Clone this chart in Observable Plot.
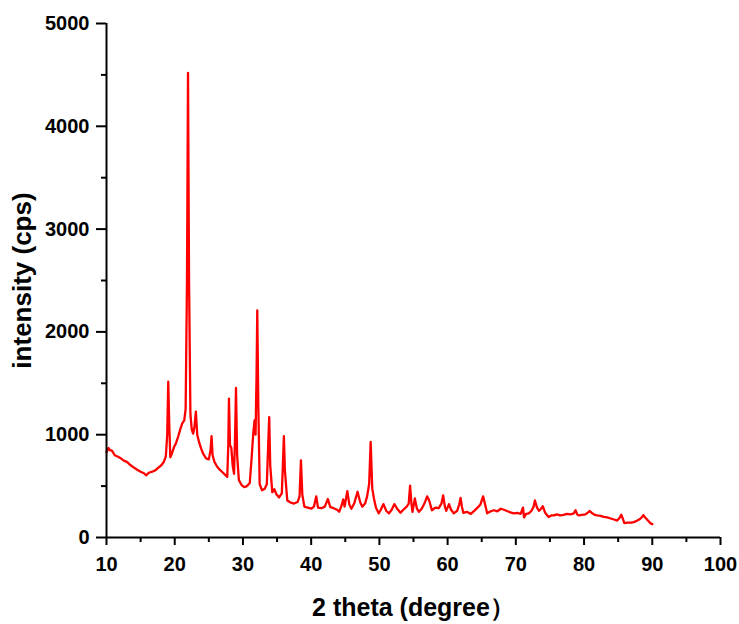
<!DOCTYPE html>
<html>
<head>
<meta charset="utf-8">
<script src="https://cdn.jsdelivr.net/npm/d3@7"></script>
<script src="https://cdn.jsdelivr.net/npm/@observablehq/plot@0.6"></script>
<style>
  html, body { margin: 0; padding: 0; background: white; }
</style>
</head>
<body>
<div id="chart"></div>
<script>
const theta = [
  10.0,10.3,10.5,10.8,11.2,11.7,12.2,12.6,13.0,13.5,14.0,14.5,15.0,15.5,15.8,16.2,16.7,17.2,17.6,18.0,
  18.4,18.7,18.9,19.05,19.2,19.35,19.6,19.9,20.2,20.5,20.8,21.1,21.4,21.6,21.8,21.95,22.1,22.3,22.5,22.7,
  22.9,23.1,23.3,23.6,23.9,24.2,24.6,25.0,25.25,25.4,25.55,25.8,26.2,26.6,27.0,27.4,27.7,27.85,27.95,28.1,
  28.3,28.5,28.7,28.85,28.98,29.15,29.4,29.8,30.2,30.6,31.0,31.3,31.5,31.7,31.85,32.0,32.1,32.25,32.45,32.8,
  33.2,33.5,33.7,33.85,34.0,34.3,34.6,34.9,35.3,35.7,35.85,36.0,36.15,36.5,37.0,37.5,38.0,38.3,38.5,38.7,
  39.0,39.5,40.0,40.4,40.75,41.0,41.5,42.0,42.45,42.8,43.3,43.8,44.1,44.4,44.7,44.9,45.3,45.6,45.9,46.3,
  46.8,47.2,47.5,47.9,48.2,48.5,48.72,48.95,49.2,49.5,49.9,50.2,50.6,51.0,51.4,51.8,52.2,52.6,53.1,53.5,
  54.0,54.3,54.5,54.7,54.85,55.2,55.5,55.8,56.2,56.6,57.0,57.3,57.7,58.2,58.7,59.1,59.35,59.6,59.8,60.2,
  60.5,60.9,61.4,61.7,61.9,62.1,62.3,62.8,63.4,63.9,64.3,64.8,65.2,65.5,65.8,66.3,66.8,67.3,67.8,68.25,
  68.8,69.2,69.7,70.2,70.7,71.05,71.2,71.5,71.9,72.3,72.6,72.8,73.1,73.4,73.7,73.95,74.3,74.8,75.2,75.6,
  76.0,76.5,77.0,77.5,78.0,78.5,78.75,79.0,79.2,79.7,80.2,80.6,80.85,81.2,81.6,81.9,82.4,82.9,83.4,83.9,
  84.4,84.85,85.2,85.45,85.7,85.9,86.4,86.9,87.3,87.8,88.2,88.5,88.7,88.95,89.3,89.7,90.0
];
const intensity = [
  830,870,850,845,800,785,765,745,735,705,680,660,640,625,605,630,640,655,680,700,
  735,790,1000,1515,1100,780,820,880,920,980,1050,1110,1140,1250,2500,4520,2500,1200,1050,1010,
  1080,1225,1000,920,860,810,770,760,850,985,800,740,690,660,635,610,590,900,1350,900,
  870,700,620,1000,1455,800,560,510,490,500,530,800,1000,1140,1000,1600,2210,1300,520,460,
  475,520,900,1170,700,440,470,420,390,430,700,985,650,360,340,330,345,400,750,420,
  300,290,280,300,400,290,285,300,375,295,285,270,250,300,370,300,450,320,280,330,
  445,340,300,330,400,520,930,480,380,290,235,270,325,260,235,270,325,280,240,270,
  300,330,505,330,250,380,280,250,280,330,400,360,265,290,285,330,410,300,260,325,
  270,235,260,320,385,300,240,250,230,260,285,320,400,320,235,255,265,255,280,270,
  255,245,235,240,230,290,195,230,235,260,300,360,290,260,280,305,240,200,215,215,
  225,215,220,230,225,235,265,225,215,220,225,245,258,235,220,215,210,200,195,185,
  175,165,190,222,180,140,145,145,150,165,180,200,218,195,170,140,130
];
const xTicks = [10,20,30,40,50,60,70,80,90,100];
const xMinor = [15,25,35,45,55,65,75,85,95];
const yTicks = [0,1000,2000,3000,4000,5000];
const yMinor = [500,1500,2500,3500,4500];
const xLabel = "2 theta (degree\uFF09";
const yLabel = "intensity (cps)";

const data = theta.map((t, i) => ({t, v: intensity[i]}));

const chart = Plot.plot({
  width: 739,
  height: 624,
  marginLeft: 106,
  marginRight: 19,
  marginTop: 23,
  marginBottom: 87,
  x: {domain: [10, 100]},
  y: {domain: [0, 5000]},
  style: {
    fontFamily: "'Liberation Sans', Arial, sans-serif",
    fontWeight: "bold",
    fontSize: "20px",
    color: "black",
    background: "white"
  },
  marks: [
    Plot.line(data, {x: "t", y: "v", stroke: "#ff0000", strokeWidth: 2.3}),
    Plot.axisX(xTicks, {tickSize: 8, tickPadding: 11, strokeWidth: 2, label: null, tickFormat: d => String(d)}),
    Plot.axisX(xMinor, {tickSize: 5, strokeWidth: 2, label: null, tickFormat: () => ""}),
    Plot.axisY(yTicks, {tickSize: 10, tickPadding: 7, strokeWidth: 2, label: null, tickFormat: d => String(d)}),
    Plot.axisY(yMinor, {tickSize: 5, strokeWidth: 2, label: null, tickFormat: () => ""}),
    Plot.ruleY([0], {strokeWidth: 2}),
    Plot.ruleX([10], {strokeWidth: 2}),
    Plot.text([xLabel], {text: d => d, frameAnchor: "bottom", dy: 70, fontSize: 25, fontWeight: "bold", textAnchor: "middle", lineAnchor: "middle"}),
    Plot.text([yLabel], {text: d => d, frameAnchor: "left", dx: -84, rotate: -90, fontSize: 26, fontWeight: "bold", textAnchor: "middle", lineAnchor: "middle"})
  ]
});
document.getElementById("chart").appendChild(chart);
</script>
</body>
</html>
